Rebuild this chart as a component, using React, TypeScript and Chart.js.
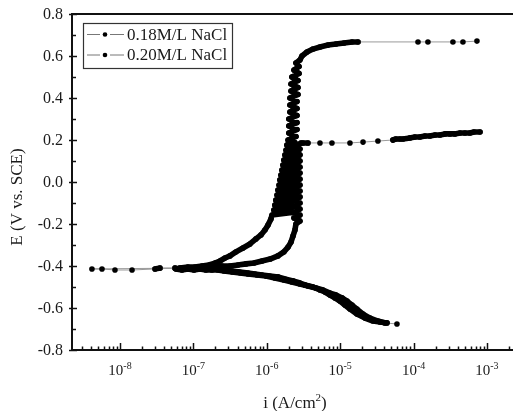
import React, { useEffect, useRef } from "react";
import { Chart, registerables } from "chart.js";

Chart.register(...registerables);

const seriesLabels = ["0.18M/L NaCl", "0.20M/L NaCl"];

// 0.18M/L NaCl : current density (A/cm2) and potential (V vs. SCE)
const current018 = [
  // cathodic branch
  4.35e-5, 3.48e-5, 2.8e-5, 2.18e-5, 1.69e-5, 1.36e-5, 1.16e-5, 9.93e-6, 8.49e-6, 7.26e-6,
  6.21e-6, 5.31e-6, 4.26e-6, 3.31e-6, 2.83e-6, 2.28e-6, 1.77e-6, 1.42e-6, 1.11e-6, 8.61e-7,
  6.9e-7, 5.55e-7, 4.32e-7, 3.36e-7, 2.7e-7, 2.16e-7, 1.68e-7, 1.44e-7, 1.23e-7, 1.05e-7,
  9.0e-8, 7.69e-8, 6.56e-8, 5.61e-8, 3.51e-8, 3.0e-8, 1.46e-8, 8.55e-9, 5.69e-9, 4.15e-9,
  // anodic branch
  6.56e-8, 8.43e-8, 1.05e-7, 1.31e-7, 1.63e-7, 1.97e-7, 2.3e-7, 2.7e-7, 3.15e-7, 3.8e-7,
  4.74e-7, 5.9e-7, 7.13e-7, 8.34e-7, 9.44e-7, 1.04e-6, 1.14e-6,
  // passive region (scattered readings)
  1.18e-6, 2.2e-6, 1.25e-6, 2.2e-6, 1.29e-6, 2.2e-6, 1.33e-6, 2.28e-6, 1.38e-6, 2.28e-6,
  1.42e-6, 2.28e-6, 1.47e-6, 2.28e-6, 1.51e-6, 2.28e-6, 1.56e-6, 2.35e-6, 1.61e-6, 2.35e-6,
  1.66e-6, 2.35e-6, 1.71e-6, 2.35e-6, 1.77e-6, 2.35e-6, 1.83e-6, 2.35e-6, 1.88e-6, 2.42e-6,
  1.95e-6,
  2.5e-6, 2.0e-6, 2.58e-6, 2.0e-6, 2.58e-6, 2.0e-6, 2.58e-6, 2.07e-6, 2.58e-6, 2.07e-6,
  2.58e-6, 2.07e-6, 2.66e-6, 2.14e-6, 2.66e-6, 2.14e-6, 2.66e-6, 2.2e-6, 2.75e-6, 2.35e-6,
  2.75e-6, 2.5e-6, 2.83e-6,
  // breakdown
  3.02e-6, 3.53e-6, 4.26e-6, 5.31e-6, 6.83e-6, 8.77e-6, 1.13e-5, 1.45e-5, 1.75e-5, 1.15e-4,
  1.57e-4, 3.44e-4, 4.71e-4, 7.31e-4,
];
const potential018 = [
  -0.671, -0.667, -0.662, -0.648, -0.629, -0.605, -0.586, -0.567, -0.552, -0.538,
  -0.524, -0.514, -0.5, -0.49, -0.481, -0.471, -0.462, -0.452, -0.448, -0.443,
  -0.438, -0.433, -0.429, -0.424, -0.419, -0.414, -0.414, -0.414, -0.41, -0.41,
  -0.41, -0.41, -0.414, -0.41, -0.41, -0.414, -0.419, -0.419, -0.414, -0.414,
  -0.41, -0.405, -0.405, -0.4, -0.395, -0.386, -0.376, -0.362, -0.352, -0.333,
  -0.314, -0.295, -0.271, -0.252, -0.229, -0.205, -0.176,
  -0.157, -0.145, -0.133, -0.121, -0.11, -0.098, -0.086, -0.074, -0.062, -0.05,
  -0.038, -0.026, -0.014, -0.002, 0.01, 0.021, 0.033, 0.045, 0.057, 0.069,
  0.081, 0.093, 0.105, 0.117, 0.129, 0.14, 0.152, 0.164, 0.176, 0.188,
  0.2,
  0.217, 0.233, 0.25, 0.267, 0.283, 0.3, 0.317, 0.333, 0.35, 0.367,
  0.383, 0.4, 0.417, 0.433, 0.45, 0.467, 0.483, 0.5, 0.517, 0.533,
  0.55, 0.567, 0.581,
  0.6, 0.619, 0.633, 0.643, 0.652, 0.657, 0.662, 0.667, 0.667, 0.667,
  0.667, 0.667, 0.667, 0.671,
];

// 0.20M/L NaCl
const current020 = [
  // cathodic branch
  5.94e-5, 4.07e-5, 3.27e-5, 2.55e-5, 2.05e-5, 1.69e-5, 1.45e-5, 1.24e-5, 1.06e-5, 8.77e-6,
  7.26e-6, 5.83e-6, 4.68e-6, 3.64e-6, 2.83e-6, 2.2e-6, 1.71e-6, 1.29e-6, 9.75e-7, 7.35e-7,
  5.55e-7, 4.32e-7, 3.36e-7, 2.61e-7, 2.16e-7, 1.79e-7, 1.48e-7, 1.23e-7, 1.02e-7, 8.43e-8,
  6.99e-8, 5.79e-8,
  // anodic branch
  7.22e-8, 9.0e-8, 1.16e-7, 1.48e-7, 1.91e-7, 2.45e-7, 3.15e-7, 4.05e-7, 5.21e-7, 6.69e-7,
  8.61e-7, 1.11e-6, 1.42e-6, 1.71e-6, 1.95e-6, 2.14e-6, 2.28e-6, 2.42e-6, 2.5e-6,
  // passive region (scattered readings)
  2.83e-6, 2.35e-6, 2.83e-6, 2.35e-6, 2.83e-6, 2.35e-6, 2.83e-6, 2.35e-6, 2.83e-6, 2.35e-6,
  2.83e-6, 2.35e-6, 2.83e-6, 2.42e-6, 2.83e-6, 2.42e-6, 2.83e-6, 2.42e-6, 2.83e-6, 2.42e-6,
  2.83e-6, 2.5e-6, 2.83e-6, 2.5e-6, 2.83e-6, 2.58e-6, 2.92e-6,
  // breakdown
  3.11e-6, 3.64e-6, 5.31e-6, 7.73e-6, 1.36e-5, 2.05e-5, 3.27e-5, 5.24e-5, 5.75e-5, 6.53e-5,
  7.18e-5, 8.93e-5, 1.04e-4, 1.22e-4, 1.43e-4, 1.67e-4, 1.96e-4, 2.29e-4, 2.68e-4, 3.13e-4,
  3.66e-4, 4.28e-4, 5.01e-4, 5.86e-4, 6.65e-4, 8.04e-4,
];
const potential020 = [
  -0.676, -0.671, -0.662, -0.648, -0.629, -0.605, -0.586, -0.567, -0.552, -0.538,
  -0.529, -0.514, -0.505, -0.495, -0.486, -0.476, -0.467, -0.457, -0.448, -0.443,
  -0.438, -0.433, -0.429, -0.424, -0.419, -0.419, -0.419, -0.414, -0.419, -0.414,
  -0.419, -0.414,
  -0.41, -0.41, -0.41, -0.405, -0.405, -0.4, -0.4, -0.395, -0.39, -0.386,
  -0.376, -0.367, -0.352, -0.333, -0.31, -0.286, -0.257, -0.229, -0.2,
  -0.186, -0.171, -0.157, -0.143, -0.129, -0.114, -0.1, -0.086, -0.071, -0.057,
  -0.043, -0.029, -0.014, 0.0, 0.014, 0.029, 0.043, 0.057, 0.071, 0.086,
  0.1, 0.114, 0.129, 0.143, 0.157, 0.171, 0.186,
  0.186, 0.186, 0.186, 0.186, 0.186, 0.19, 0.195, 0.2, 0.205, 0.205,
  0.205, 0.21, 0.214, 0.214, 0.219, 0.219, 0.224, 0.224, 0.229, 0.229,
  0.229, 0.233, 0.233, 0.233, 0.238, 0.238,
];

const yTickValues = [-0.8, -0.6, -0.4, -0.2, 0.0, 0.2, 0.4, 0.6, 0.8];
const yTickLabels = ["-0.8", "-0.6", "-0.4", "-0.2", "0.0", "0.2", "0.4", "0.6", "0.8"];
const xDecadeTicks = [1e-8, 1e-7, 1e-6, 1e-5, 1e-4, 1e-3];
const xDecadeExponents = ["-8", "-7", "-6", "-5", "-4", "-3"];

const X_MIN = 2.22e-9;
const X_MAX = 3.3e-3;
const Y_MIN = -0.8;
const Y_MAX = 0.8;

const SERIF = '"Liberation Serif", "Times New Roman", serif';
const INK = "#1a1a1a";

function drawPowerLabel(ctx: CanvasRenderingContext2D, base: string, sup: string, cx: number, baseY: number, size: number, supSize: number, tail = "") {
  ctx.font = `${size}px ${SERIF}`;
  const w1 = ctx.measureText(base).width;
  const w3 = tail ? ctx.measureText(tail).width : 0;
  ctx.font = `${supSize}px ${SERIF}`;
  const w2 = ctx.measureText(sup).width;
  const total = w1 + w2 + w3;
  const x0 = cx - total / 2;
  ctx.textAlign = "left";
  ctx.textBaseline = "alphabetic";
  ctx.font = `${size}px ${SERIF}`;
  ctx.fillText(base, x0, baseY);
  ctx.font = `${supSize}px ${SERIF}`;
  ctx.fillText(sup, x0 + w1, baseY - size * 0.42);
  if (tail) {
    ctx.font = `${size}px ${SERIF}`;
    ctx.fillText(tail, x0 + w1 + w2, baseY);
  }
}

const decorPlugin = {
  id: "decor",
  afterDraw(chart: any) {
    const ctx: CanvasRenderingContext2D = chart.ctx;
    const a = chart.chartArea;
    const xs = chart.scales.x;
    const ys = chart.scales.y;
    ctx.save();
    ctx.fillStyle = INK;
    ctx.strokeStyle = "#111";

    // frame
    ctx.lineWidth = 2;
    ctx.strokeRect(a.left, a.top, a.right - a.left, a.bottom - a.top);

    // y ticks (major crossing, minor inward)
    ctx.lineWidth = 1.5;
    yTickValues.forEach((v) => {
      const py = Math.round(ys.getPixelForValue(v)) + 0.5;
      ctx.beginPath();
      ctx.moveTo(a.left - 3, py);
      ctx.lineTo(a.left + 5, py);
      ctx.stroke();
    });
    for (let i = 0; i < yTickValues.length - 1; i++) {
      const v = (yTickValues[i] + yTickValues[i + 1]) / 2;
      const py = Math.round(ys.getPixelForValue(v)) + 0.5;
      ctx.beginPath();
      ctx.moveTo(a.left, py);
      ctx.lineTo(a.left + 4, py);
      ctx.stroke();
    }

    // x ticks (inward)
    for (let e = -9; e <= -3; e++) {
      for (let m = 1; m <= 9; m++) {
        const v = m * Math.pow(10, e);
        if (v < X_MIN || v > X_MAX) continue;
        const px = Math.round(xs.getPixelForValue(v)) + 0.5;
        const h = m === 1 ? 7 : 3.5;
        ctx.beginPath();
        ctx.moveTo(px, a.bottom);
        ctx.lineTo(px, a.bottom - h);
        ctx.stroke();
      }
    }

    // y tick labels
    ctx.font = `16px ${SERIF}`;
    ctx.textAlign = "right";
    ctx.textBaseline = "middle";
    yTickValues.forEach((v, i) => {
      ctx.fillText(yTickLabels[i], a.left - 9, ys.getPixelForValue(v) + 1);
    });

    // x tick labels
    xDecadeTicks.forEach((v, i) => {
      const px = xs.getPixelForValue(v);
      drawPowerLabel(ctx, "10", xDecadeExponents[i], px, 375, 15, 10);
    });

    // axis titles
    drawPowerLabel(ctx, "i (A/cm", "2", 295, 408, 17, 11, ")");
    ctx.save();
    ctx.translate(18, 197);
    ctx.rotate(-Math.PI / 2);
    ctx.font = `17px ${SERIF}`;
    ctx.textAlign = "center";
    ctx.textBaseline = "middle";
    ctx.fillText("E (V vs. SCE)", 0, 0);
    ctx.restore();

    // legend
    ctx.lineWidth = 1.2;
    ctx.strokeStyle = "#333";
    ctx.strokeRect(83.5, 23.5, 149, 45);
    const rows = [34.5, 55];
    seriesLabels.forEach((lab, i) => {
      const ry = rows[i];
      ctx.strokeStyle = "#777";
      ctx.lineWidth = 1;
      ctx.beginPath();
      ctx.moveTo(87, ry);
      ctx.lineTo(100, ry);
      ctx.moveTo(110, ry);
      ctx.lineTo(124, ry);
      ctx.stroke();
      ctx.fillStyle = "#000";
      ctx.beginPath();
      ctx.arc(105, ry, 2.3, 0, Math.PI * 2);
      ctx.fill();
      ctx.fillStyle = INK;
      ctx.font = `17px ${SERIF}`;
      ctx.textAlign = "left";
      ctx.textBaseline = "middle";
      ctx.fillText(lab, 127, ry + 1);
    });

    ctx.restore();
  },
};

function toPoints(cur: number[], pot: number[]) {
  return cur.map((c, i) => ({ x: c, y: pot[i] }));
}

// closely spaced measurements merge into a solid dark band; sparse horizontal runs keep a thin connector
function isSparse(c: any) {
  const dx = Math.abs(c.p1.x - c.p0.x);
  const dy = Math.abs(c.p1.y - c.p0.y);
  return Math.hypot(dx, dy) > 22 || (dy <= 1.3 && dx > 9.5);
}

export default function App() {
  const ref = useRef<HTMLCanvasElement | null>(null);
  useEffect(() => {
    if (!ref.current) return;
    const common = {
      showLine: true,
      borderColor: "#808080",
      borderWidth: 0.8,
      borderCapStyle: "round",
      borderJoinStyle: "round",
      pointRadius: 2.8,
      pointBackgroundColor: "#000",
      pointBorderColor: "#000",
      pointBorderWidth: 0,
      tension: 0,
      segment: {
        borderColor: (c: any) => (isSparse(c) ? "#808080" : "#000"),
        borderWidth: (c: any) => (isSparse(c) ? 0.8 : 5.6),
      },
    };
    const chart = new Chart(ref.current, {
      type: "scatter",
      data: {
        datasets: [
          { label: seriesLabels[0], data: toPoints(current018, potential018), ...common },
          { label: seriesLabels[1], data: toPoints(current020, potential020), ...common },
        ],
      },
      options: {
        responsive: false,
        animation: false,
        layout: { padding: { left: 72, top: 14, right: 5, bottom: 61 } },
        plugins: { legend: { display: false }, tooltip: { enabled: false } },
        scales: {
          x: { type: "logarithmic", display: false, min: X_MIN, max: X_MAX },
          y: { type: "linear", display: false, min: Y_MIN, max: Y_MAX },
        },
      },
      plugins: [decorPlugin],
    } as any);
    return () => chart.destroy();
  }, []);
  return (
    <div style={{ position: "fixed", left: 0, top: 0, width: 513, height: 411, overflow: "hidden", background: "#fff" }}>
      <canvas ref={ref} width={530} height={411} style={{ display: "block" }} />
    </div>
  );
}
